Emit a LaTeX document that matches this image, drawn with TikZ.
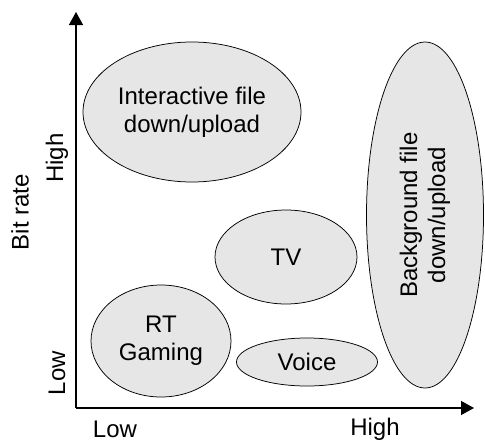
\documentclass[tikz,border=0pt]{standalone}
\usepackage{fontspec}
\setmainfont{Liberation Sans}
\usetikzlibrary{shapes.geometric,arrows.meta}

\tikzset{every picture/.style={line width=0.75pt}}
\tikzset{
  blob/.style={ellipse, draw, fill={rgb,255:red,230;green,230;blue,230}, inner sep=0pt, align=center},
  axis/.style={line width=1.3pt, -{Triangle[length=13pt,width=14pt]}},
  lbl/.style={inner sep=0.75pt, align=center}
}

\begin{document}
\begin{tikzpicture}[x=1pt,y=1pt,yscale=-1,xscale=1,font=\fontsize{24}{28}\selectfont]
        \useasboundingbox (0,0) rectangle (485,442);

        %Axes
        \coordinate (origin) at (76,408);
        \coordinate (ytop) at (76,12);
        \coordinate (xend) at (474,408);
        \draw [axis] (origin) -- (ytop);
        \draw [axis] (origin) -- (xend);

        %Shape: Ellipse [interactive]
        \node [blob, minimum width=218pt, minimum height=140pt] (interactive) at (192,112) {Interactive file\\down/upload};
        %Shape: Ellipse [tv]
        \node [blob, minimum width=142pt, minimum height=94pt] (tv) at (286,257) {TV};
        %Shape: Ellipse [gaming]
        \node [blob, minimum width=140pt, minimum height=112pt] (gaming) at (161,341) {RT\\Gaming};
        %Shape: Ellipse [voice]
        \node [blob, minimum width=141pt, minimum height=48pt] (voice) at (307,362) {Voice};
        %Shape: Ellipse [background]
        \node [blob, minimum width=117pt, minimum height=346pt] (background) at (425,215) {};
        \node [lbl, rotate=90] (backtext) at (background.center) {Background file\\down/upload};

        % Text Node
        \node [lbl, rotate=90] (yhigh) at (57,158) {High};
        % Text Node
        \node [lbl, rotate=90] (ylow) at (57,373) {Low};
        % Text Node
        \node [lbl, rotate=90] (ytitle) at (20,212) {Bit rate};
        % Text Node
        \node [lbl] (xlow) at (115,429) {Low};
        % Text Node
        \node [lbl] (xhigh) at (375,429) {High};

\end{tikzpicture}
\end{document}
